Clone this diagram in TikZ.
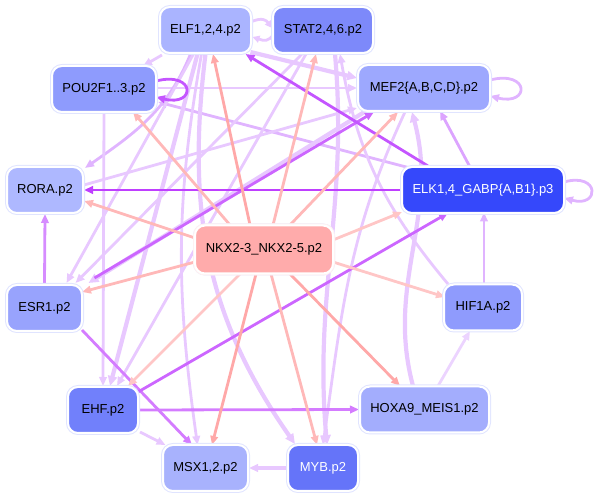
\documentclass[tikz,border=0pt]{standalone}
\usepackage{fontspec}
\setmainfont{Liberation Sans}
\usetikzlibrary{arrows.meta}
\pgfdeclarelayer{edges}
\pgfsetlayers{edges,main}
\definecolor{cELF}{HTML}{AAB4FF}
\definecolor{cSTAT}{HTML}{7D89FA}
\definecolor{cPOU}{HTML}{8E9BFD}
\definecolor{cMEF}{HTML}{9DA8FE}
\definecolor{cRORA}{HTML}{AEB8FF}
\definecolor{cELK}{HTML}{3548FB}
\definecolor{cNKX}{HTML}{FFABAB}
\definecolor{cESR}{HTML}{98A3FD}
\definecolor{cHIF}{HTML}{8F9BFD}
\definecolor{cEHF}{HTML}{7180FB}
\definecolor{cHOX}{HTML}{A3ADFD}
\definecolor{cMSX}{HTML}{A8B2FD}
\definecolor{cMYB}{HTML}{6574F9}
\definecolor{ring}{HTML}{E0E4FF}
\definecolor{pkA}{HTML}{FFA8A8}
\definecolor{pkB}{HTML}{FFB8B8}
\definecolor{pkC}{HTML}{FFC6C6}
\definecolor{lavA}{HTML}{E8C8FF}
\definecolor{lavB}{HTML}{E0B4FF}
\definecolor{lavC}{HTML}{ECD4FF}
\definecolor{purA}{HTML}{BF3FFF}
\definecolor{purB}{HTML}{C455FF}
\definecolor{purC}{HTML}{CC66FF}
\definecolor{purD}{HTML}{D47CFF}
\definecolor{purE}{HTML}{D68CFF}
\definecolor{purF}{HTML}{DCA4FF}
\tikzset{
  tf/.style={rounded corners=10pt, inner sep=0pt, minimum height=46pt,
    font=\fontsize{13}{15}\selectfont,
    preaction={draw=ring, line width=4pt}, draw=white, line width=2pt},
  ed/.style={line width=2.8pt, -{Triangle[length=9pt,width=7.5pt]}},
  thk/.style={line width=4.2pt, -{Triangle[length=10pt,width=9pt]}},
  sml/.style={line width=2.8pt, -{Triangle[length=7pt,width=7pt]}},
}
\begin{document}
\begin{tikzpicture}[x=1pt,y=1pt]
\useasboundingbox (0,0) rectangle (595,498);
% nodes
\node[tf, fill=cELF, minimum width=91pt] (elf) at (205.5,468) {ELF1,2,4.p2};
\node[tf, fill=cSTAT, minimum width=100pt] (stat) at (323,468) {STAT2,4,6.p2};
\node[tf, fill=cPOU, minimum width=104pt] (pou) at (104,409) {POU2F1..3.p2};
\node[tf, fill=cMEF, minimum width=132pt] (mef) at (424,410) {MEF2\{A,B,C,D\}.p2};
\node[tf, fill=cRORA, minimum width=76pt] (rora) at (45,308) {RORA.p2};
\node[tf, fill=cELK, minimum width=162pt, text=white] (elk) at (483,308) {ELK1,4\_GABP\{A,B1\}.p3};
\node[tf, fill=cNKX, minimum width=138pt, minimum height=48pt, preaction={draw=white!85!cNKX, line width=4pt}] (nkx) at (264,248.5) {NKX2-3\_NKX2-5.p2};
\node[tf, fill=cESR, minimum width=75pt] (esr) at (44.5,190) {ESR1.p2};
\node[tf, fill=cHIF, minimum width=78pt] (hif) at (483,190.5) {HIF1A.p2};
\node[tf, fill=cEHF, minimum width=70pt] (ehf) at (103,88) {EHF.p2};
\node[tf, fill=cHOX, minimum width=129pt] (hox) at (424.5,88.5) {HOXA9\_MEIS1.p2};
\node[tf, fill=cMSX, minimum width=85pt] (msx) at (205.5,30) {MSX1,2.p2};
\node[tf, fill=cMYB, minimum width=70pt, text=white] (myb) at (323,30) {MYB.p2};

\begin{pgfonlayer}{edges}
% lavender edges
\draw[sml, lavA] ([shift={(45,8)}]elf.center) .. controls +(12,5) and +(-6,8) .. ([shift={(-51,2)}]stat.center);
\draw[sml, lavA] ([shift={(-49,-4)}]stat.center) .. controls +(-6,-8) and +(12,-4) .. ([shift={(47,-7)}]elf.center);
\draw[ed, lavA] ([shift={(-43.5,-25)}]elf.center) -- ([shift={(39,23)}]pou.center);
\draw[thk, lavA] ([shift={(45,-22)}]elf.center) -- ([shift={(-67,10)}]mef.center);
\draw[ed, lavA] ([shift={(53,1)}]pou.center) -- (mef.west);
\draw[ed, lavB] ([shift={(-73,22)}]elk.center) -- ([shift={(54,-13)}]pou.center);
\draw[ed, lavB] ([shift={(-15,-24)}]elf.center) to[out=-112,in=35] ([shift={(40,22)}]rora.center);
\draw[ed, lavA] (pou.south) -- (ehf.north);
\draw[ed, lavA] ([shift={(-12,-24)}]elf.center) -- ([shift={(22,25)}]esr.center);
\draw[ed, lavA] ([shift={(-21,-24)}]stat.center) -- ([shift={(31,25)}]esr.center);
\draw[thk, lavA] ([shift={(-58,-23)}]mef.center) -- ([shift={(44,25)}]esr.center);
\draw[ed, lavA] ([shift={(-17,-24)}]stat.center) -- ([shift={(14,24)}]ehf.center);
\draw[thk, lavA] ([shift={(-8,-24)}]elf.center) -- ([shift={(7,24)}]ehf.center);
\draw[ed, lavA] ([shift={(-4,-24)}]elf.center) to[out=-100,in=98] ([shift={(-8,23)}]msx.center);
\draw[thk, lavA] ([shift={(0,-24)}]elf.center) to[out=-97,in=125] ([shift={(-28,24)}]myb.center);
\draw[thk, lavA] ([shift={(12,-24)}]stat.center) to[out=-85,in=95] ([shift={(4,23)}]myb.center);
\draw[ed, lavA] ([shift={(-19,-24)}]mef.center) to[out=-115,in=82] ([shift={(0,23)}]myb.center);
\draw[thk, lavA] ([shift={(-11.5,23.5)}]hox.center) to[out=105,in=-75] ([shift={(-12,-24)}]mef.center);
\draw[ed, lavA] ([shift={(-35,23.5)}]hif.center) to[out=130,in=-80] ([shift={(17,-24)}]stat.center);
\draw[ed, lavA] ([shift={(39,5)}]rora.center) -- ([shift={(-67,-20)}]mef.center);
\draw[ed, lavA] ([shift={(37,-22)}]ehf.center) -- ([shift={(-40,23)}]msx.center);
\draw[ed, lavA, line width=3.4pt] (myb.west) -- (msx.east);
\draw[ed, lavC] ([shift={(13.5,23.5)}]hox.center) -- ([shift={(-13,-23.5)}]hif.center);
\draw[ed, lavB] ([shift={(1,23.5)}]hif.center) -- ([shift={(1,-22.5)}]elk.center);
\draw[ed, purF] ([shift={(-13,23)}]elk.center) -- ([shift={(16,-23)}]mef.center);
\draw[ed, lavB] ([shift={(66,8)}]mef.center) .. controls +(40,10) and +(40,-10) .. ([shift={(66,-8)}]mef.center);
\draw[ed, lavB] ([shift={(81,8)}]elk.center) .. controls +(36,10) and +(36,-10) .. ([shift={(81,-8)}]elk.center);
% purple edges
\draw[ed, purE] (esr.north) -- (rora.south);
\draw[ed, purD] ([shift={(37.5,-22)}]esr.center) -- ([shift={(-13.5,23)}]msx.center);
\draw[ed, purC] ([shift={(35,18)}]ehf.center) -- ([shift={(-35,-23)}]elk.center);
\draw[ed, purD] (ehf.east) -- (hox.west);
\draw[ed, purC] ([shift={(50,30)}]esr.center) -- ([shift={(-50,-24)}]mef.center);
\draw[ed, purA] (elk.west) -- (rora.east);
\draw[ed, purB] ([shift={(-55,24)}]elk.center) -- ([shift={(40,-24)}]elf.center);
\draw[ed, purB] ([shift={(52,8)}]pou.center) .. controls +(40,10) and +(40,-10) .. ([shift={(52,-8)}]pou.center);
% pink edges from NKX
\draw[ed, pkB] ([shift={(-34,24.5)}]nkx.center) -- ([shift={(29,-23)}]pou.center);
\draw[ed, pkA] ([shift={(-14,24.5)}]nkx.center) -- ([shift={(7.5,-24)}]elf.center);
\draw[ed, pkB] ([shift={(9,24.5)}]nkx.center) -- ([shift={(-7,-24)}]stat.center);
\draw[ed, pkB] ([shift={(26,24.5)}]nkx.center) -- ([shift={(-26,-24)}]mef.center);
\draw[ed, pkB] ([shift={(-69,11.5)}]nkx.center) -- ([shift={(39,-11)}]rora.center);
\draw[ed, pkC] ([shift={(69,9.5)}]nkx.center) -- ([shift={(-81,-22)}]elk.center);
\draw[ed, pkB] ([shift={(-69,-12.5)}]nkx.center) -- ([shift={(37.5,16)}]esr.center);
\draw[ed, pkC] ([shift={(69,-12.5)}]nkx.center) -- ([shift={(-38,10.5)}]hif.center);
\draw[ed, pkC] ([shift={(-24,-24.5)}]nkx.center) -- ([shift={(25,24)}]ehf.center);
\draw[ed, pkA] ([shift={(26,-24.5)}]nkx.center) -- ([shift={(-24.5,23.5)}]hox.center);
\draw[ed, pkA] ([shift={(-8,-24.5)}]nkx.center) -- ([shift={(6.5,23)}]msx.center);
\draw[ed, pkB] ([shift={(7,-24.5)}]nkx.center) -- ([shift={(-6,23)}]myb.center);
\end{pgfonlayer}
\end{tikzpicture}
\end{document}
